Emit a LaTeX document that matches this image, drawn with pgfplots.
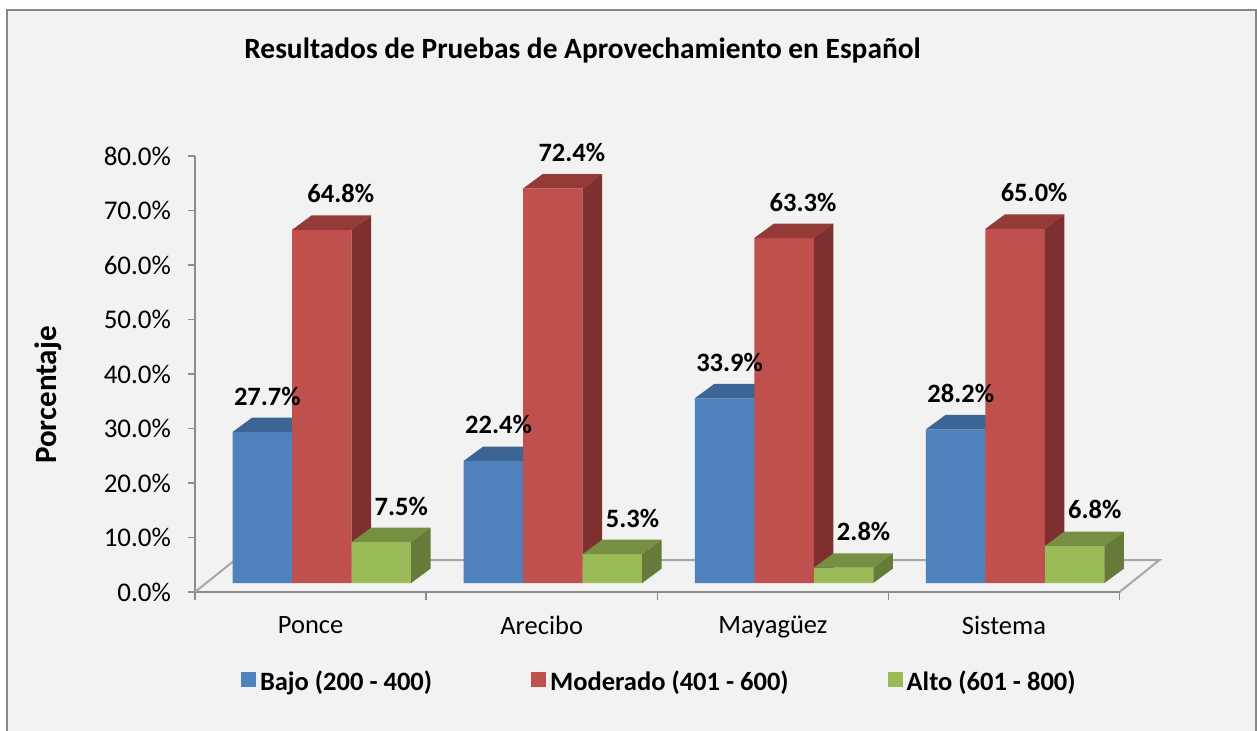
\documentclass[border=0pt]{standalone}
\usepackage{pgfplots}
\pgfplotsset{compat=1.18}
\usepackage{pgfplotstable}
\usepackage{fontspec}
\setmainfont{Carlito}

\definecolor{bgc}{HTML}{F2F2F2}
\definecolor{framec}{HTML}{878787}
\definecolor{axc}{HTML}{8C8C8C}
\definecolor{floorc}{HTML}{A6A6A6}
\definecolor{bF}{HTML}{4F81BD}\definecolor{bT}{HTML}{3C6494}\definecolor{bS}{HTML}{385D8A}
\definecolor{rF}{HTML}{C0504D}\definecolor{rT}{HTML}{943A37}\definecolor{rS}{HTML}{7D302F}
\definecolor{gF}{HTML}{9BBB59}\definecolor{gT}{HTML}{768F42}\definecolor{gS}{HTML}{667B39}

\pgfplotstableread{
cat bajo moderado alto
0 27.7 64.8 7.5
1 22.4 72.4 5.3
2 33.9 63.3 2.8
3 28.2 65.0 6.8
}\data

% 3D faces of a bar: name, x offset of bar centre (pt), top colour, side colour
\newcommand\declarebarmark[4]{%
  \pgfdeclareplotmark{#1}{%
    \pgfmathsetmacro\Hh{\hval*2.725}%
    \pgfmathsetmacro\xl{#2-14.875}%
    \pgfmathsetmacro\xr{#2+14.875}%
    \pgfpathmoveto{\pgfpoint{\xl pt}{4.5pt}}%
    \pgfpathlineto{\pgfpoint{\xr pt}{4.5pt}}%
    \pgfpathlineto{\pgfpoint{\xr pt+9.75pt}{11.7pt}}%
    \pgfpathlineto{\pgfpoint{\xl pt+9.75pt}{11.7pt}}%
    \pgfpathclose
    \pgfsetfillcolor{#3}\pgfusepath{fill}%
    \pgfpathmoveto{\pgfpoint{\xr pt}{4.5pt}}%
    \pgfpathlineto{\pgfpoint{\xr pt+9.75pt}{11.7pt}}%
    \pgfpathlineto{\pgfpoint{\xr pt+9.75pt}{11.7pt-\Hh pt}}%
    \pgfpathlineto{\pgfpoint{\xr pt}{4.5pt-\Hh pt}}%
    \pgfpathclose
    \pgfsetfillcolor{#4}\pgfusepath{fill}%
  }}
\declarebarmark{barB}{-24.125}{bT}{bS}
\declarebarmark{barR}{5.625}{rT}{rS}
\declarebarmark{barG}{35.375}{gT}{gS}

\pgfplotsset{
  lbl/.style={draw=none, forget plot, point meta=y,
    nodes near coords={\pgfmathprintnumber[fixed,fixed zerofill,precision=1]{\pgfplotspointmeta}\%},
    every node near coord/.append style={anchor=base, inner sep=0pt, yshift=18pt, text=black,
      font=\bfseries\fontsize{13.25}{15}\selectfont, xshift=#1}},
}

\begin{document}
\begin{tikzpicture}
\useasboundingbox (0,0) rectangle (628.5pt,365pt);
\fill[white] (0,0) rectangle (628.5pt,365pt);
\fill[bgc] (3.5pt,-2pt) rectangle (628pt,360pt);
\draw[framec, line width=1pt] (3.5pt,-5pt) -- (3.5pt,360pt) -- (628pt,360pt) -- (628pt,-5pt);
\begin{axis}[
  at={(97.5pt,69pt)}, anchor=south west,
  scale only axis, width=462.25pt, height=218pt,
  xmin=-0.5, xmax=3.5, ymin=0, ymax=80, enlargelimits=false,
  clip=false, clip marker paths=true,
  axis lines*=left,
  axis line style={draw=axc, line width=0.75pt},
  tick align=outside, major tick length=3.5pt,
  tick style={draw=axc, line width=0.75pt},
  /pgf/number format/assume math mode=true,
  ytick={0,10,...,80},
  yticklabel={\pgfmathprintnumber[fixed,fixed zerofill,precision=1]{\tick}\%},
  yticklabel style={font=\fontsize{13.5}{16}\selectfont, xshift=-5pt},
  xtick={0,1,2,3},
  xticklabels={Ponce,Arecibo,Mayagüez,Sistema},
  xticklabel style={font=\fontsize{13.25}{16}\selectfont, yshift=-5pt},
  major x tick style={draw=none},
  extra x ticks={-0.5,0.5,1.5,2.5,3.5},
  extra x tick labels={},
  extra x tick style={major x tick style={draw=axc}, major tick length=4pt},
  title={Resultados de Pruebas de Aprovechamiento en Español},
  title style={at={(axis description cs:0.4192,1.224)}, anchor=base, inner sep=0pt, yshift=-6pt,
    font=\bfseries\fontsize{14.7}{17}\selectfont},
  ylabel={Porcentaje},
  ylabel style={at={(axis description cs:-0.1493,0.4518)}, anchor=base, inner sep=0pt,
    font=\bfseries\fontsize{15.5}{18}\selectfont},
  legend columns=3,
  legend cell align=left,
  legend style={at={(axis description cs:0.04976,-0.2076)}, anchor=west,
    draw=none, fill=none, inner sep=0pt, outer sep=0pt,
    font=\bfseries\fontsize{13.25}{15}\selectfont,
    /tikz/every odd column/.append style={column sep=0pt},
    /tikz/every even column/.append style={column sep=47.5pt}},
]
\draw[floorc, line width=1pt] (axis cs:-0.5,0) -- ++(20pt,16pt)
  -- ([shift={(20pt,16pt)}]axis cs:3.5,0) -- (axis cs:3.5,0);

\addplot[ybar, bar width=29.75pt, bar shift=-24.125pt, yshift=4.5pt, fill=bF, draw=none,
  legend image code/.code={\fill[bF] (0pt,-6.75pt) rectangle (7.5pt,0.75pt);}]
  table[x=cat,y=bajo]{\data};
\addlegendentry{Bajo (200 - 400)}
\addplot[only marks, mark=barB, forget plot, visualization depends on={\thisrow{bajo}\as\hval}]
  table[x=cat,y=bajo]{\data};

\addplot[ybar, bar width=29.75pt, bar shift=5.625pt, yshift=4.5pt, fill=rF, draw=none,
  legend image code/.code={\fill[rF] (0pt,-6.75pt) rectangle (7.5pt,0.75pt);}]
  table[x=cat,y=moderado]{\data};
\addlegendentry{Moderado (401 - 600)}
\addplot[only marks, mark=barR, forget plot, visualization depends on={\thisrow{moderado}\as\hval}]
  table[x=cat,y=moderado]{\data};

\addplot[ybar, bar width=29.75pt, bar shift=35.375pt, yshift=4.5pt, fill=gF, draw=none,
  legend image code/.code={\fill[gF] (0pt,-6.75pt) rectangle (7.5pt,0.75pt);}]
  table[x=cat,y=alto]{\data};
\addlegendentry{Alto (601 - 800)}
\addplot[only marks, mark=barG, forget plot, visualization depends on={\thisrow{alto}\as\hval}]
  table[x=cat,y=alto]{\data};

\addplot[lbl=-21.6pt] table[x=cat,y=bajo]{\data};
\addplot[lbl=15.1pt] table[x=cat,y=moderado]{\data};
\addplot[lbl=45.4pt] table[x=cat,y=alto]{\data};
\end{axis}
\end{tikzpicture}
\end{document}
